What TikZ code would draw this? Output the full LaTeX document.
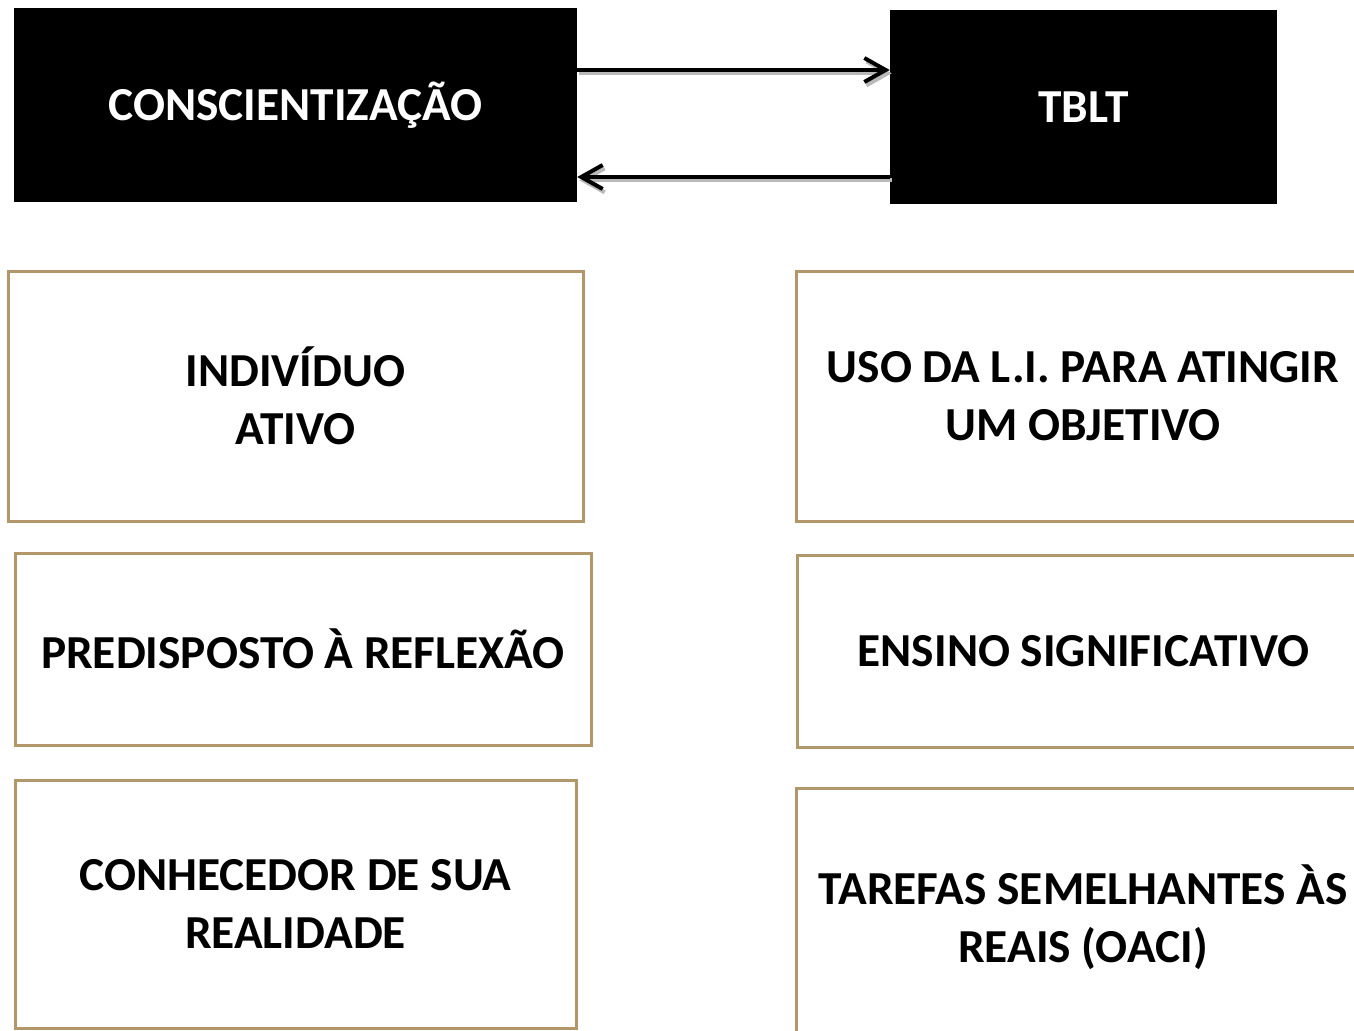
\documentclass[tikz,border=0pt]{standalone}
\usepackage{fontspec}
\setmainfont{Carlito}
\usetikzlibrary{arrows.meta, positioning}
\definecolor{tan}{RGB}{178,151,106}

\begin{document}
\begin{tikzpicture}[x=0.75pt, y=-0.75pt,
    >={Straight Barb[length=16pt, width=18pt, line width=3pt]},
    font=\fontsize{35.5}{43.5}\selectfont\bfseries,
    head/.style={fill=black, text=white, minimum height=145.5pt, inner sep=0pt},
    card/.style={draw=tan, line width=2.25pt, align=center, inner sep=0pt},
    link/.style={->, line width=3pt},
    shadow/.style={->, line width=3pt, gray!55, transform canvas={xshift=1.5pt, yshift=-2.5pt}}]

   \useasboundingbox (0,0) rectangle (1354,1031);
   \clip (0,0) rectangle (1354,1031);

   \node[head, minimum width=422.25pt] (consc) at (295.5,105) {CONSCIENTIZAÇÃO};
   \node[head, minimum width=290.25pt] (tblt) at (1083.5,107) {TBLT};

   \node[card, minimum width=431.25pt, minimum height=187.5pt] (ind) at (295.5,396) {INDIVÍDUO\\ATIVO};
   \node[card, minimum width=432pt, minimum height=144pt] (pre) at (303,649) {PREDISPOSTO À REFLEXÃO};
   \node[card, minimum width=420.75pt, minimum height=186pt] (con) at (295.5,904) {CONHECEDOR DE SUA\\REALIDADE};

   \node[card, minimum width=430.5pt, minimum height=187.5pt] (uso) at (1083,396) {USO DA L.I. PARA ATINGIR\\UM OBJETIVO};
   \node[card, minimum width=429.75pt, minimum height=144pt] (ens) at (1083.5,651) {ENSINO SIGNIFICATIVO};
   \node[card, minimum width=430.5pt, minimum height=193.5pt] (tar) at (1083,917) {TAREFAS SEMELHANTES ÀS\\REAIS (OACI)};

   \coordinate (up) at (0,70);
   \coordinate (dn) at (0,177);

   \draw[shadow] (consc.east |- up) -- (tblt.west |- up);
   \draw[shadow] (tblt.west |- dn) -- (consc.east |- dn);
   \draw[link] (consc.east |- up) -- (tblt.west |- up);
   \draw[link] (tblt.west |- dn) -- (consc.east |- dn);
\end{tikzpicture}
\end{document}
